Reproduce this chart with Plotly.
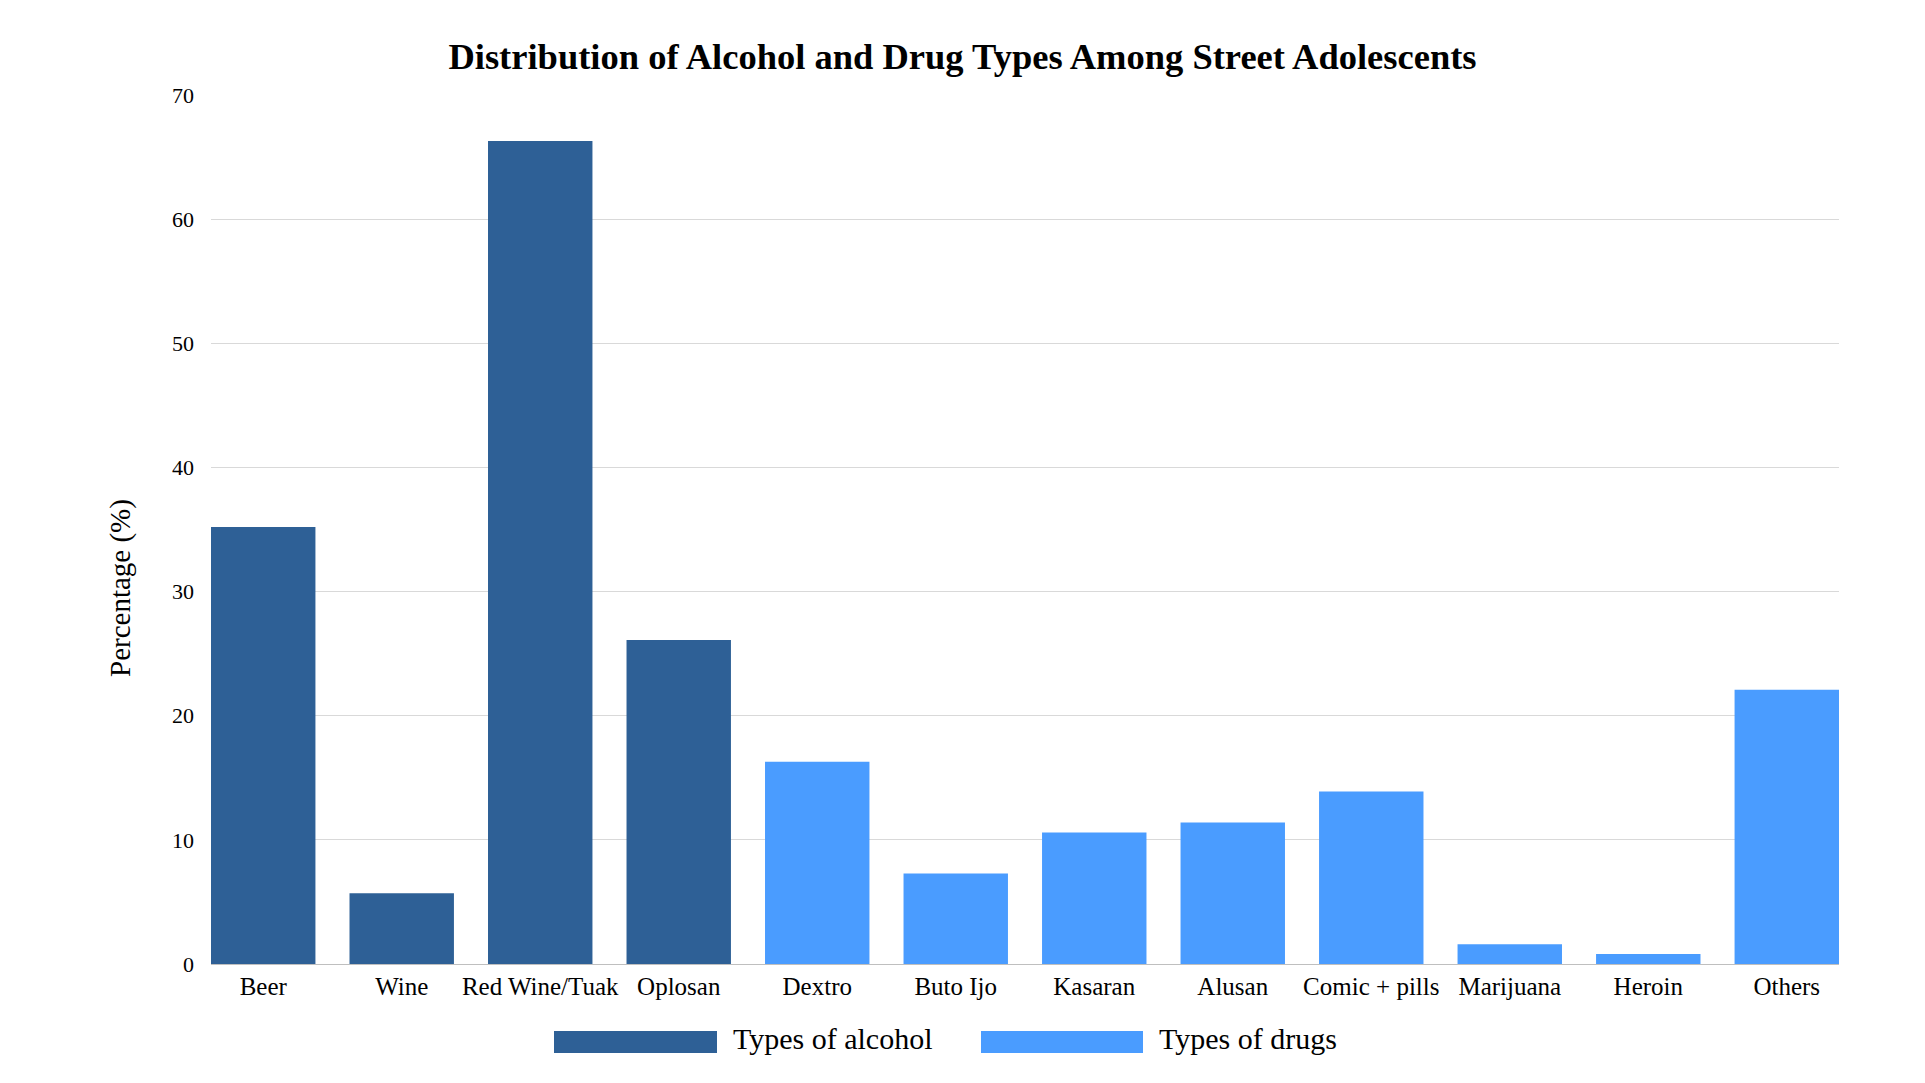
import plotly.graph_objects as go

categories = ["Beer", "Wine", "Red Wine/Tuak", "Oplosan", "Dextro", "Buto Ijo",
              "Kasaran", "Alusan", "Comic + pills", "Marijuana", "Heroin", "Others"]
alcohol_cats = ["Beer", "Wine", "Red Wine/Tuak", "Oplosan"]
alcohol_vals = [35.2, 5.7, 66.3, 26.1]
drug_cats = ["Dextro", "Buto Ijo", "Kasaran", "Alusan", "Comic + pills", "Marijuana", "Heroin", "Others"]
drug_vals = [16.3, 7.3, 10.6, 11.4, 13.9, 1.6, 0.8, 22.1]
y_ticks = [0, 10, 20, 30, 40, 50, 60, 70]

DARK = "#2E6096"
LIGHT = "#4A9CFF"
FONT = "Liberation Serif"

fig = go.Figure()
fig.add_trace(go.Bar(x=alcohol_cats, y=alcohol_vals, name="Types of alcohol",
                     marker=dict(color=DARK, line=dict(width=0)), showlegend=False))
fig.add_trace(go.Bar(x=drug_cats, y=drug_vals, name="Types of drugs",
                     marker=dict(color=LIGHT, line=dict(width=0)), showlegend=False))

bw = 0.754
fig.update_layout(
    width=1925, height=1083,
    margin=dict(l=211, r=86, t=95, b=119, pad=0),
    paper_bgcolor="white", plot_bgcolor="white",
    barmode="overlay",
    font=dict(family=FONT, color="black"),
    title=dict(text="<b>Distribution of Alcohol and Drug Types Among Street Adolescents</b>",
               x=0.5, xanchor="center", y=1 - 56 / 1083, yanchor="middle",
               font=dict(family=FONT, size=36.5, color="black")),
    xaxis=dict(categoryorder="array", categoryarray=categories,
               range=[-bw / 2, len(categories) - 1 + bw / 2],
               showgrid=False, showline=True, linecolor="#BFBFBF", linewidth=1,
               ticks="", tickfont=dict(size=25, family=FONT), ticklabelstandoff=0),
    yaxis=dict(range=[0, 70], tickvals=y_ticks, showgrid=True, gridcolor="#D9D9D9",
               gridwidth=1, zeroline=False, showline=False, ticks="",
               tickfont=dict(size=22, family=FONT), ticklabelstandoff=16),
)
for trace in fig.data:
    trace.width = bw

# y-axis title
fig.add_annotation(text="Percentage (%)", xref="paper", yref="paper",
                   x=(120 - 211) / 1628, y=(964 - 588) / 869,
                   xanchor="center", yanchor="middle", textangle=-90, showarrow=False,
                   font=dict(size=29, family=FONT, color="black"))

# custom legend with wide swatches
legend_items = [("Types of alcohol", DARK, 554, 717, 731), ("Types of drugs", LIGHT, 981, 1143, 1157)]
for label, col, x0, x1, tx in legend_items:
    fig.add_shape(type="rect", xref="paper", yref="paper",
                  x0=(x0 - 211) / 1628, x1=(x1 - 211) / 1628,
                  y0=-(1053 - 964) / 869, y1=-(1031 - 964) / 869,
                  fillcolor=col, line=dict(width=0))
    fig.add_annotation(text=label, xref="paper", yref="paper",
                       x=(tx - 211) / 1628, y=-(1038 - 964) / 869,
                       xanchor="left", yanchor="middle", showarrow=False,
                       font=dict(size=30, family=FONT, color="black"))

fig.write_html("out.html")
